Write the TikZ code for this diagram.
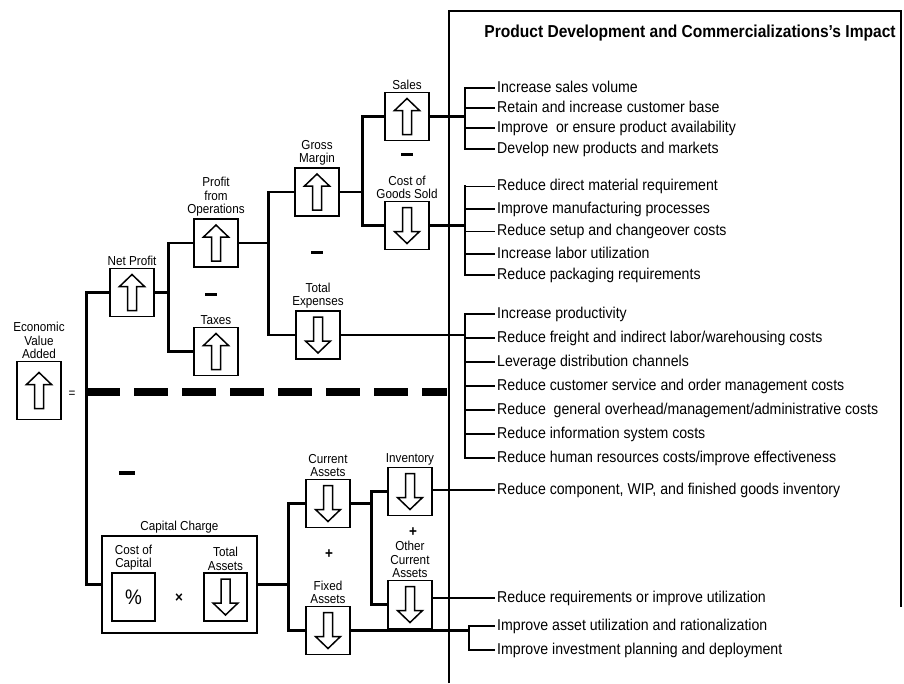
\documentclass[tikz,border=0pt]{standalone}
\usepackage{fontspec}
\setmainfont[FakeStretch=0.9]{Liberation Sans}

\begin{document}
\begin{tikzpicture}[x=1pt,y=-1pt,
    box/.style={draw,line width=1.8pt,minimum width=44pt,minimum height=48pt,inner sep=0pt},
    upbox/.style={box,path picture={\draw[line width=1.5pt,shift={(path picture bounding box.center)}]
      (0,-18) -- (12.5,-6) -- (4.5,-6) -- (4.5,18) -- (-4.5,18) -- (-4.5,-6) -- (-12.5,-6) -- cycle;}},
    downbox/.style={box,path picture={\draw[line width=1.5pt,shift={(path picture bounding box.center)}]
      (0,18) -- (12.5,6) -- (4.5,6) -- (4.5,-18) -- (-4.5,-18) -- (-4.5,6) -- (-12.5,6) -- cycle;}},
    lbl/.style={align=center,font=\fontsize{13}{13.5}\selectfont,inner sep=1.5pt},
    item/.style={anchor=west,font=\fontsize{15.7}{17}\selectfont,inner sep=2pt,text height=11pt,text depth=3pt},
    conn/.style={line width=2.8pt},
    tick/.style={line width=1.6pt},
    sign/.style={font=\bfseries\fontsize{15}{15}\selectfont,inner sep=0pt}]
  \useasboundingbox (0,0) rectangle (904,683);

  % impact panel
  \draw [line width=1.4pt] (449,683) -- (449,11) -- (901,11) -- (901,607);
  \node (title) at (690,33) {\bfseries\fontsize{17.3}{18}\selectfont Product Development and Commercializations's Impact};

  % value tree
  \node [box,upbox,minimum height=58pt,label={[lbl]above:{Economic\\Value\\Added}}] (eva) at (39,390.5) {};
  \node [lbl] (eq) at (72,394) {=};
  \node [upbox,label={[lbl]above:Net Profit}] (np) at (132,292.5) {};
  \node [upbox,label={[lbl]above:{Profit\\from\\Operations}}] (pfo) at (216,243) {};
  \node [upbox,label={[lbl]above:Taxes}] (tax) at (216,351.5) {};
  \node [upbox,label={[lbl]above:{Gross\\Margin}}] (gm) at (317,192) {};
  \node [downbox,label={[lbl]above:{Total\\Expenses}}] (te) at (318,335) {};
  \node [upbox,label={[lbl]above:Sales}] (sales) at (407,116.5) {};
  \node [downbox,label={[lbl]above:{Cost of\\Goods Sold}}] (cogs) at (407,225.5) {};

  \node [sign] (m1) at (211,294) {\rule{12pt}{3pt}};
  \node [sign] (m2) at (317,252) {\rule{12pt}{3pt}};
  \node [sign] (m3) at (407,154) {\rule{12pt}{3pt}};
  \node [sign] (m4) at (127,473) {\rule{16pt}{3.5pt}};

  \node [box,minimum width=155pt,minimum height=97pt,label={[lbl]above:Capital Charge}] (cc) at (179.5,584.5) {};
  \node [box,minimum width=43pt,label={[lbl]above:{Cost of\\Capital}}] (pct) at (133.5,597) {\fontsize{21}{21}\selectfont\%};
  \node [sign] (times) at (179,598) {×};
  \node [downbox,minimum width=43pt,label={[lbl]above:{Total\\Assets}}] (ta) at (225.5,597) {};
  \node [downbox,label={[lbl]above:{Current\\Assets}}] (ca) at (328,503.5) {};
  \node [downbox,label={[lbl]above:{Fixed\\Assets}}] (fa) at (328,630.5) {};
  \node [downbox,label={[lbl]above:Inventory}] (inv) at (410,491.5) {};
  \node [downbox,label={[lbl]above:{Other\\Current\\Assets}}] (oca) at (410,604.5) {};
  \node [sign] (p1) at (329,554) {+};
  \node [sign] (p2) at (413,532) {+};

  \draw [conn] (np.west) -- ++(-23,0) coordinate (spine) |- (cc.west);
  \coordinate (dashend) at (447,392);
  \draw [line width=8pt,dash pattern=on 34pt off 14pt] (dashend -| spine) -- (dashend);
  \draw [conn] (pfo.west) -- ++(-25,0) coordinate (j1) |- (tax.west);
  \draw [conn] (np.east) -- (np.east -| j1);
  \draw [conn] (gm.west) -- ++(-26,0) coordinate (j2) |- (te.west);
  \draw [conn] (pfo.east) -- (pfo.east -| j2);
  \draw [conn] (sales.west) -- ++(-22,0) coordinate (j3) |- (cogs.west);
  \draw [conn] (gm.east) -- (gm.east -| j3);
  \draw [conn] (ca.west) -- ++(-17,0) coordinate (j4) |- (fa.west);
  \draw [conn] (cc.east) -- (cc.east -| j4);
  \draw [conn] (inv.west) -- ++(-16,0) coordinate (j5) |- (oca.west);
  \draw [conn] (ca.east) -- (ca.east -| j5);

  % impacts
  \coordinate (bx) at (465,0);
  \node [item] (s1) at (495,88) {Increase sales volume};
  \node [item] (s2) at (495,108) {Retain and increase customer base};
  \node [item] (s3) at (495,128) {Improve\ \ or ensure product availability};
  \node [item] (s4) at (495,149) {Develop new products and markets};
  \node [item] (c1) at (495,186.5) {Reduce direct material requirement};
  \node [item] (c2) at (495,209) {Improve manufacturing processes};
  \node [item] (c3) at (495,231.5) {Reduce setup and changeover costs};
  \node [item] (c4) at (495,254) {Increase labor utilization};
  \node [item] (c5) at (495,275) {Reduce packaging requirements};
  \node [item] (e1) at (495,314) {Increase productivity};
  \node [item] (e2) at (495,338) {Reduce freight and indirect labor/warehousing costs};
  \node [item] (e3) at (495,362) {Leverage distribution channels};
  \node [item] (e4) at (495,386) {Reduce customer service and order management costs};
  \node [item] (e5) at (495,410) {Reduce\ \ general overhead/management/administrative costs};
  \node [item] (e6) at (495,434) {Reduce information system costs};
  \node [item] (e7) at (495,458) {Reduce human resources costs/improve effectiveness};
  \node [item] (iv1) at (495,490) {Reduce component, WIP, and finished goods inventory};
  \node [item] (oc1) at (495,598) {Reduce requirements or improve utilization};
  \node [item] (f1) at (495,626) {Improve asset utilization and rationalization};
  \node [item] (f2) at (495,650) {Improve investment planning and deployment};

  \draw [conn] (sales.east) -- (sales.east -| bx);
  \draw [conn,line cap=rect] (bx |- s1.west) -- (bx |- s4.west);
  \foreach \i in {1,...,4} \draw [tick] (bx |- s\i.west) -- (s\i.west);
  \draw [conn] (cogs.east) -- (cogs.east -| bx);
  \draw [conn,line cap=rect] (bx |- c1.west) -- (bx |- c5.west);
  \foreach \i in {1,...,5} \draw [tick] (bx |- c\i.west) -- (c\i.west);
  \draw [conn] (te.east) -- (te.east -| bx);
  \draw [conn,line cap=rect] (bx |- e1.west) -- (bx |- e7.west);
  \foreach \i in {1,...,7} \draw [tick] (bx |- e\i.west) -- (e\i.west);
  \draw [tick,line width=2.2pt] (inv.east |- iv1.west) -- (iv1.west);
  \draw [tick,line width=2.2pt] (oca.east |- oc1.west) -- (oc1.west);
  \draw [conn] (fa.east) -- ++(118,0) coordinate (bf);
  \draw [conn,line cap=rect] (bf |- f1.west) -- (bf |- f2.west);
  \draw [tick] (bf |- f1.west) -- (f1.west);
  \draw [tick] (bf |- f2.west) -- (f2.west);
\end{tikzpicture}
\end{document}
